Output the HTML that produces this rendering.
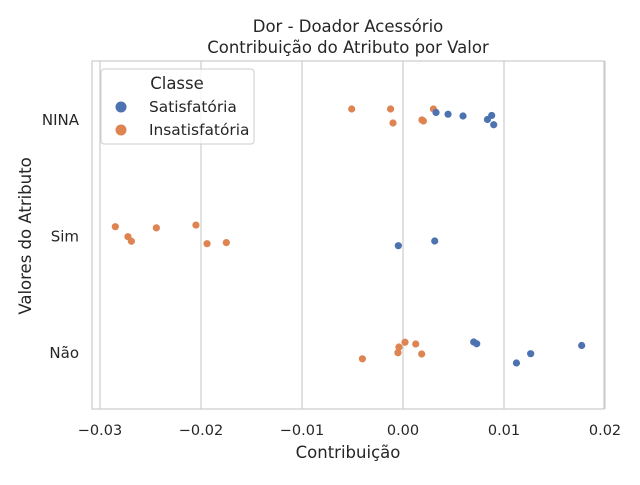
<!DOCTYPE html>
<html><head><meta charset="utf-8"><style>
body{margin:0;background:#fff;font-family:"Liberation Sans","DejaVu Sans",sans-serif;}
svg text{fill:#262626;font-family:"DejaVu Sans","Liberation Sans",sans-serif;}
</style></head><body>
<svg id="chart" width="640" height="480">
<rect width="640" height="480" fill="#fff"/>
<text x="348" y="32" text-anchor="middle" font-size="16.5">Dor - Doador Acessório</text>
<text x="348" y="53" text-anchor="middle" font-size="16.5">Contribuição do Atributo por Valor</text>
<g id="grid"></g><g id="ticks"></g><g id="pts"></g>
<rect x="92" y="61" width="512" height="348" fill="none" stroke="#ccc" stroke-width="1.2"/>
<text x="348" y="458" text-anchor="middle" font-size="16.5">Contribuição</text>
<text x="31" y="236" text-anchor="middle" font-size="16.5" transform="rotate(-90 31 236)">Valores do Atributo</text>
<g>
<rect x="101" y="69" width="153" height="75" rx="3" fill="#fff" fill-opacity="0.8" stroke="#ccc"/>
<text x="177" y="89" text-anchor="middle" font-size="16.5">Classe</text>
<circle cx="121" cy="107" r="5.5" fill="#4c72b0"/>
<text x="149" y="112" font-size="15.4">Satisfatória</text>
<circle cx="121" cy="130" r="5.5" fill="#dd8452"/>
<text x="149" y="135" font-size="15.4">Insatisfatória</text>
</g>
</svg>
<script>
const categories=["NINA","Sim","Não"];
const xTicks=[-0.03,-0.02,-0.01,0,0.01,0.02];
const xTickLabels=["−0.03","−0.02","−0.01","0.00","0.01","0.02"];
const satCat=[0,0,0,0,0,0,1,1,2,2,2,2,2];
const satVal=[0.00327,0.00446,0.00594,0.00836,0.00878,0.00898,-0.00046,0.00314,0.0070,0.0073,0.01123,0.01264,0.01769];
const satJit=[-0.06,-0.045,-0.03,0,-0.035,0.045,0.083,0.043,-0.09,-0.075,0.09,0.01,-0.06];
const insCat=[0,0,0,0,0,0,1,1,1,1,1,1,1,2,2,2,2,2,2];
const insVal=[-0.00508,-0.00123,-0.00099,0.00188,0.00202,0.00301,-0.02848,-0.02723,-0.02689,-0.02442,-0.0205,-0.0194,-0.01749,-0.00402,-0.0005,-0.0004,0.0002,0.00126,0.00185];
const insJit=[-0.09,-0.09,0.03,0.004,0.013,-0.09,-0.08,0.006,0.045,-0.07,-0.094,0.066,0.057,0.054,0.002,-0.047,-0.088,-0.073,0.013];
const NS="http://www.w3.org/2000/svg";
const X0=92,X1=604,XMIN=-0.03079,XMAX=0.0199;
function xs(v){return X0+(v-XMIN)/(XMAX-XMIN)*(X1-X0);}
function ys(c){return 119.5+c*116.5;}
function mk(tag,attrs,parent){const e=document.createElementNS(NS,tag);for(const k in attrs)e.setAttribute(k,attrs[k]);document.getElementById(parent).appendChild(e);return e;}
xTicks.forEach((t,i)=>{
 const x=xs(t);
 const l=mk('line',{x1:x,x2:x,y1:61,y2:409,stroke:'#ccc','stroke-width':1.2},'grid');
 
 
 const tx=mk('text',{x:x,y:435,'text-anchor':'middle','font-size':14.5},'ticks');
 tx.textContent=xTickLabels[i];
 
 
});
categories.forEach((c,i)=>{
 const tx=mk('text',{x:79,y:ys(i)+5.5,'text-anchor':'end','font-size':15},'ticks');
 tx.textContent=c;
 
 
});
function draw(cat,val,jit,color,name){
 val.forEach((v,i)=>{
  const p=mk('circle',{cx:xs(v),cy:ys(cat[i]+jit[i]),r:3.6,fill:color},'pts');
  
  
 });
}
draw(insCat,insVal,insJit,'#dd8452','point-insatisfatoria');
draw(satCat,satVal,satJit,'#4c72b0','point-satisfatoria');
</script>
</body></html>
